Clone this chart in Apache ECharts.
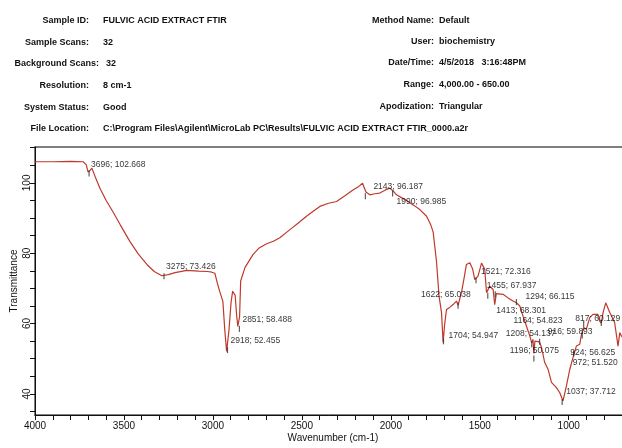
<!DOCTYPE html>
<html>
<head>
<meta charset="utf-8">
<script src="https://cdn.jsdelivr.net/npm/echarts@6/dist/echarts.min.js"></script>
<style>
  html, body { margin: 0; padding: 0; background: #fff; }
  #chart { width: 622px; height: 448px; }
</style>
</head>
<body>
<div id="chart"></div>
<script>
// spectrum
let wavenumbers = [
  4000, 3900, 3800, 3730, 3712, 3702, 3690, 3680, 3660, 3635, 3600, 3562, 3520, 3466,
  3420, 3371, 3330, 3287, 3250, 3213, 3146, 3080, 3030, 3006, 2989, 2975, 2961, 2944,
  2933, 2923, 2910, 2898, 2889, 2875, 2866, 2860, 2850, 2844, 2820, 2775, 2740, 2698,
  2660, 2624, 2567, 2520, 2474, 2440, 2399, 2350, 2305, 2260, 2213, 2180, 2159, 2140,
  2118, 2090, 2062, 2030, 2006, 1985, 1968, 1940, 1912, 1870, 1837, 1799, 1775, 1762,
  1743, 1729, 1715, 1706, 1697, 1687, 1669, 1650, 1631, 1622, 1603, 1588, 1575, 1556,
  1540, 1528, 1510, 1490, 1472, 1462, 1444, 1425, 1416, 1407, 1397, 1369, 1341, 1313,
  1294, 1275, 1257, 1238, 1219, 1208, 1201, 1196, 1190, 1181, 1164, 1153, 1135, 1116,
  1097, 1069, 1051, 1032, 1013, 994, 976, 957, 938, 930, 924, 916, 901, 882, 864, 836,
  826, 817, 807, 792, 770, 742, 723, 713, 704, 690, 650
];
let transmittance = [
  106.0, 106.0, 106.1, 106.0, 105.2, 103.1, 103.6, 104.2, 101.5, 98.5, 95.0, 91.8, 88.0, 83.3,
  79.8, 76.8, 74.8, 73.6, 73.9, 74.5, 75.1, 74.9, 74.8, 74.6, 74.3, 71.5, 69.0, 66.3,
  58.0, 52.1, 58.0, 66.0, 69.2, 68.0, 62.0, 59.2, 62.0, 72.1, 75.9, 79.6, 81.5, 82.7,
  83.4, 84.4, 86.7, 88.6, 90.5, 91.8, 93.3, 94.2, 94.7, 96.3, 98.0, 99.0, 99.9, 97.4,
  96.6, 96.9, 97.1, 98.0, 98.5, 97.6, 96.6, 95.8, 95.0, 93.6, 92.4, 90.5, 88.0, 86.0,
  77.5, 67.8, 63.1, 54.6, 60.0, 64.0, 64.6, 65.4, 66.4, 65.2, 68.8, 73.0, 76.8, 77.3,
  75.5, 72.5, 73.5, 77.2, 75.4, 68.8, 70.6, 69.7, 65.4, 68.5, 68.8, 68.3, 67.3, 66.4,
  65.9, 65.0, 62.1, 59.3, 56.5, 54.5, 55.5, 51.5, 55.0, 55.0, 54.8, 53.2, 48.9, 47.0,
  43.3, 41.8, 40.4, 38.0, 42.3, 47.0, 50.3, 53.6, 54.1, 56.5, 56.2, 58.9, 58.4, 61.7, 62.6, 62.6,
  60.7, 60.1, 63.1, 65.9, 63.2, 60.3, 53.6, 57.4, 56.5, 55.5, 54.5
];

// picked peaks printed on the chart
let peakWn = [3696, 3275, 2918, 2851, 2143, 1990, 1704, 1622, 1521, 1455, 1413, 1294, 1208, 1196, 1164, 1037, 972, 924, 916, 817];
let peakT = [102.668, 73.426, 52.455, 58.488, 96.187, 96.985, 54.947, 65.038, 72.316, 67.937, 68.301, 66.115, 54.137, 50.075, 54.823, 37.712, 51.520, 56.625, 59.893, 60.129];

let xLabels = [1000, 1500, 2000, 2500, 3000, 3500, 4000];
let yLabels = [40, 60, 80, 100];

let headerLeftKeys = ["Sample ID:", "Sample Scans:", "Background Scans:", "Resolution:", "System Status:", "File Location:"];
let headerLeftVals = ["FULVIC ACID EXTRACT FTIR", "32", "32", "8 cm-1", "Good", "C:\\Program Files\\Agilent\\MicroLab PC\\Results\\FULVIC ACID EXTRACT FTIR_0000.a2r"];
let headerRightKeys = ["Method Name:", "User:", "Date/Time:", "Range:", "Apodization:"];
let headerRightVals = ["Default", "biochemistry", "4/5/2018   3:16:48PM", "4,000.00 - 650.00", "Triangular"];

// where each peak label sits relative to its peak (px)
let peakLabelShift = [
  [2, -9], [2, -10], [3, -9], [3, -9], [8, -10], [4, 8], [5, -6], [-37, -11], [5, -9], [-1, -10],
  [1, 16], [9, -5], [-26, -11], [-24, -8], [-26, -21], [4, -10], [-1, 9], [-12, 17], [-36, 8], [-26, -4]
];

const FONT = '"Liberation Sans", Arial, sans-serif';

function steps(from, to, step) {
  let out = [];
  for (let v = from; v <= to; v += step) out.push(v);
  return out;
}

function headerText(x, y, text, align) {
  return {
    type: "text",
    x: x,
    y: y,
    style: { text: text, font: "bold 9px " + FONT, fill: "#111", align: align, verticalAlign: "middle" },
  };
}

function headerGraphics() {
  let g = [];
  let rowsL = [21, 43, 64, 86, 108, 129];
  let rowsR = [21, 42, 63, 85, 107];
  headerLeftKeys.forEach((k, i) => {
    let keyRight = i === 2 ? 99 : 89;
    let valX = i === 2 ? 106 : 103;
    g.push(headerText(keyRight, rowsL[i], k, "right"));
    g.push(headerText(valX, rowsL[i], headerLeftVals[i], "left"));
  });
  headerRightKeys.forEach((k, i) => {
    g.push(headerText(434, rowsR[i], k, "right"));
    g.push(headerText(439, rowsR[i], headerRightVals[i], "left"));
  });
  return g;
}

function drawChart() {
  let spectrum = wavenumbers.map((w, i) => [w, transmittance[i]]);
  let peaks = peakWn.map((w, i) => ({
    value: [w, peakT[i]],
    label: { offset: peakLabelShift[i] },
  }));

  echarts.init(document.getElementById("chart")).setOption({
    animation: false,
    backgroundColor: "#fff",
    grid: {
      left: 35,
      right: -9,
      top: 147,
      bottom: 33,
      outerBoundsMode: "none",
      show: true,
      borderColor: "#555",
      borderWidth: 1.5,
    },
    graphic: headerGraphics(),
    xAxis: {
      type: "value",
      inverse: true,
      min: 650,
      max: 4000,
      name: "Wavenumber (cm-1)",
      nameLocation: "middle",
      nameGap: 18,
      nameMoveOverlap: false,
      nameTextStyle: { fontFamily: FONT, fontSize: 10, color: "#111" },
      axisLine: { lineStyle: { color: "#111", width: 1 } },
      axisTick: { length: 5, customValues: steps(700, 4000, 100), lineStyle: { color: "#111" } },
      axisLabel: {
        customValues: xLabels,
        formatter: (v) => String(v),
        fontFamily: FONT,
        fontSize: 10,
        color: "#111",
        margin: 6,
      },
      splitLine: { show: false },
    },
    yAxis: {
      type: "value",
      min: 34,
      max: 110.2,
      name: "Transmittance",
      nameLocation: "middle",
      nameRotate: 90,
      nameGap: 16,
      nameMoveOverlap: false,
      nameTextStyle: { fontFamily: FONT, fontSize: 10, color: "#111" },
      axisLine: { show: true, lineStyle: { color: "#111", width: 1 } },
      axisTick: { show: true, length: 5, customValues: steps(35, 110, 5), lineStyle: { color: "#111" } },
      axisLabel: {
        customValues: yLabels,
        formatter: (v) => String(v),
        rotate: 90,
        fontFamily: FONT,
        fontSize: 10,
        color: "#111",
        margin: 3,
      },
      splitLine: { show: false },
    },
    series: [
      {
        type: "line",
        data: spectrum,
        showSymbol: false,
        lineStyle: { color: "#c0392b", width: 1.2 },
        z: 2,
      },
      {
        type: "scatter",
        data: peaks,
        symbol: "rect",
        symbolSize: [1.2, 6],
        itemStyle: { color: "#333" },
        label: {
          show: true,
          position: "inside",
          align: "left",
          verticalAlign: "middle",
          fontFamily: FONT,
          fontSize: 8.5,
          color: "#000",
          formatter: (p) => p.value[0] + "; " + p.value[1].toFixed(3),
        },
        z: 3,
      },
    ],
  });
}

drawChart();
</script>
</body>
</html>
